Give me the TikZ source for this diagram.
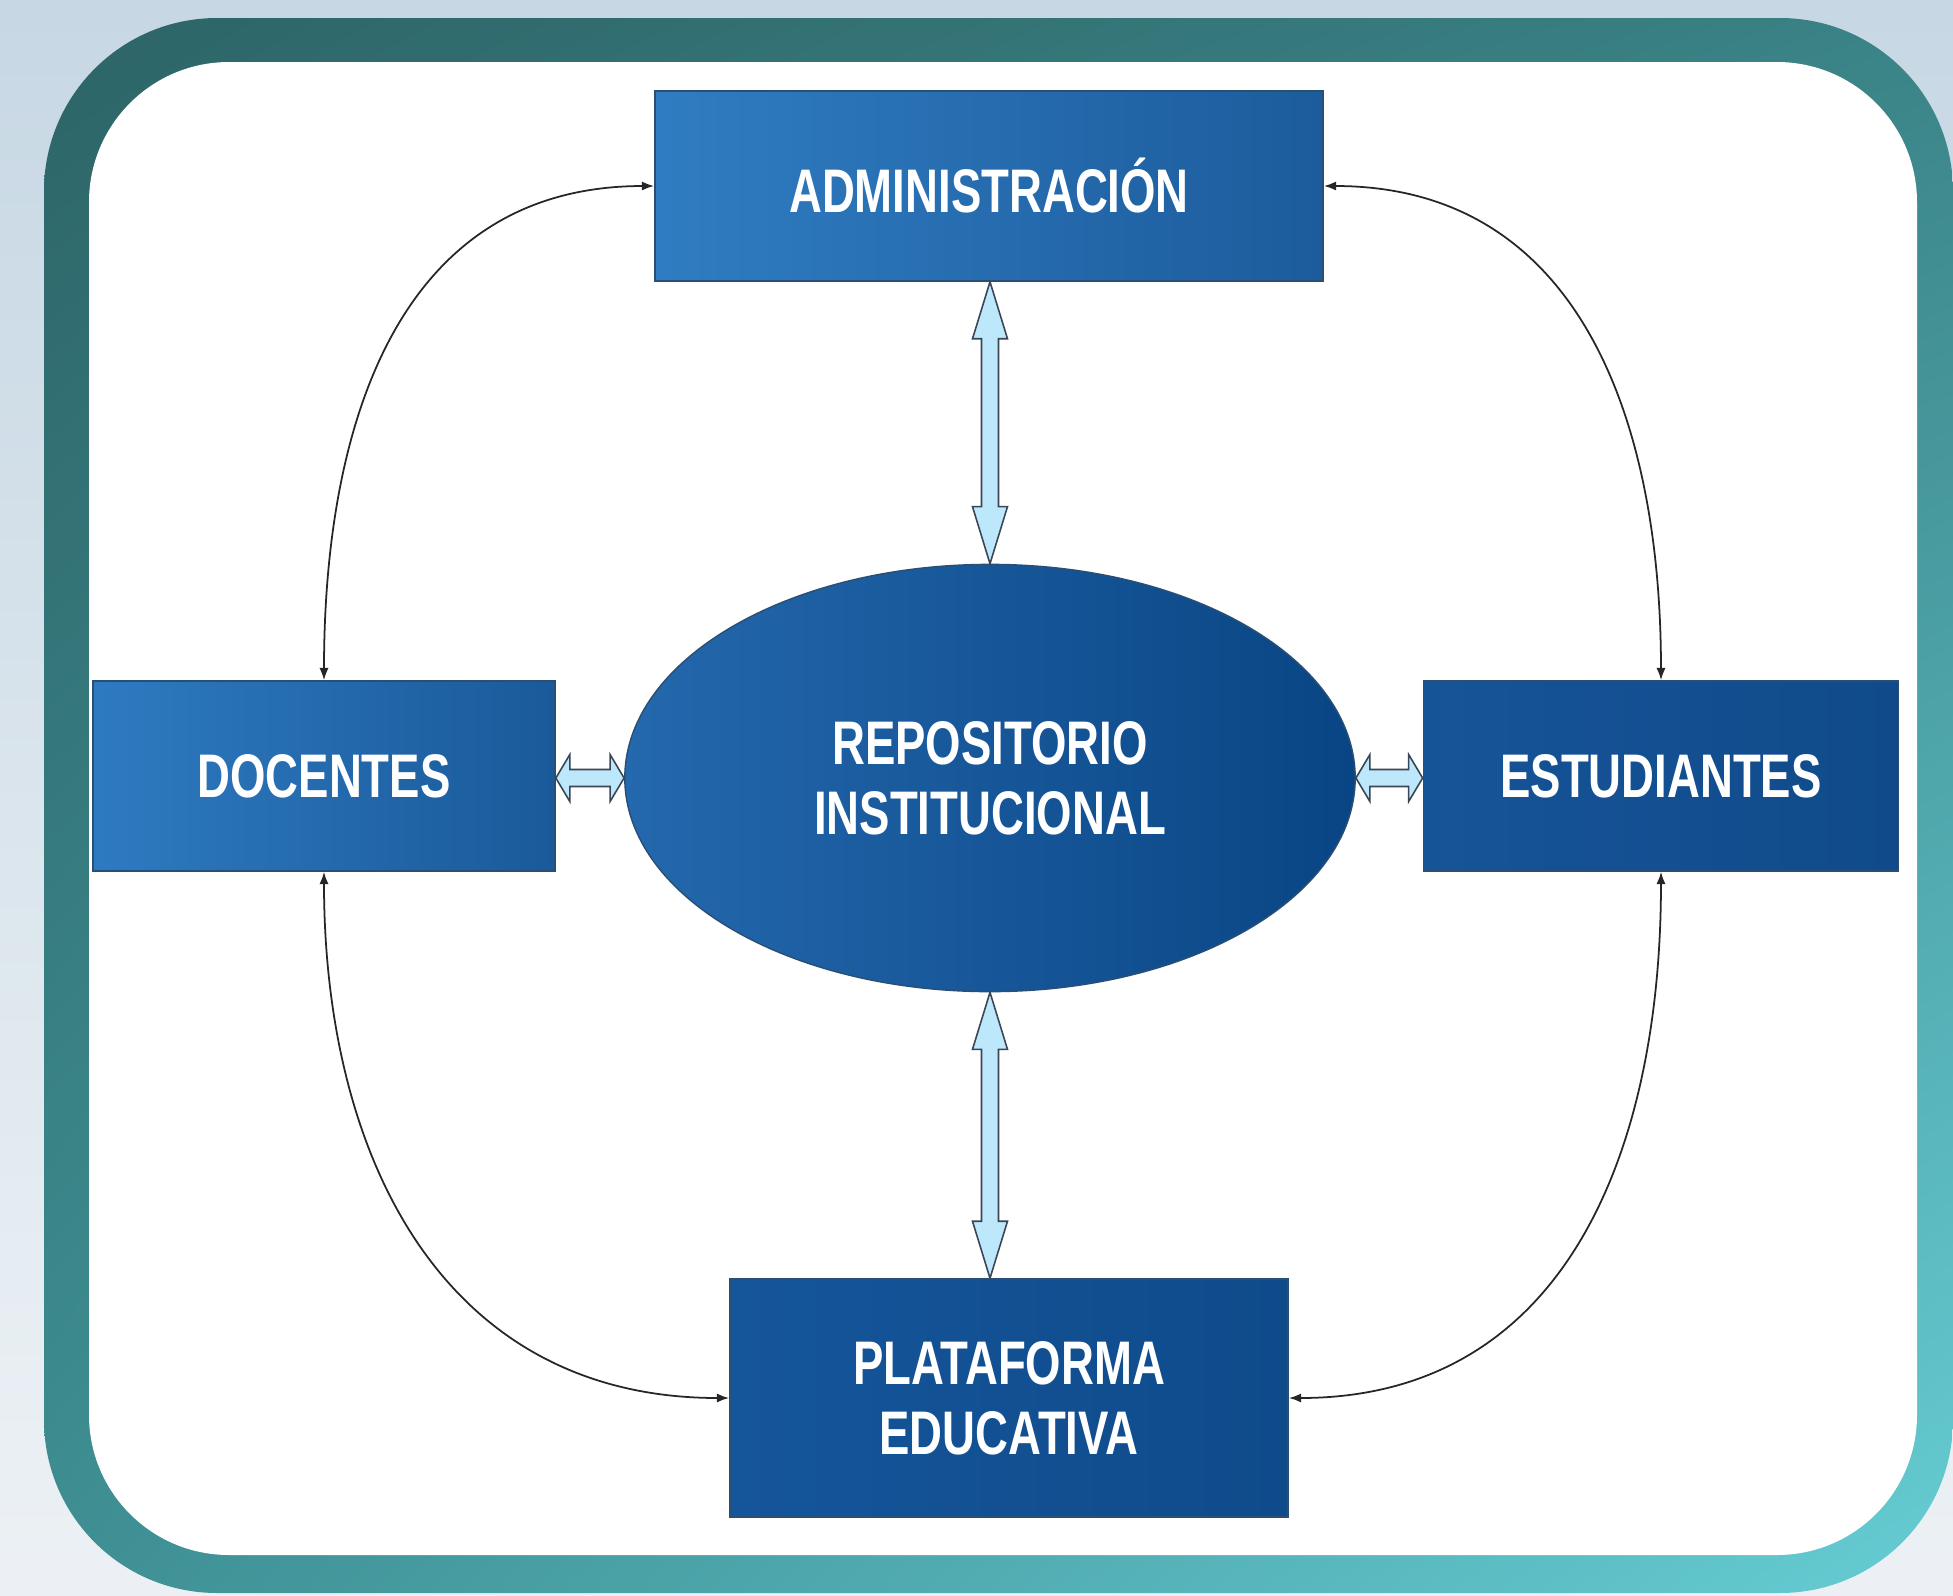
\documentclass[tikz,border=0pt]{standalone}
\usepackage{fontspec}
\newfontfamily\boxfont[FakeStretch=0.74]{Liberation Sans}
\usetikzlibrary{shapes.geometric, shadings, arrows.meta, calc}
\definecolor{bgtop}{HTML}{C3D5E2}
\definecolor{bgmid}{HTML}{D2DFE9}
\definecolor{bglow}{HTML}{E6EDF2}
\definecolor{bgwhite}{HTML}{F3F4F6}
\definecolor{bgrose}{HTML}{EDE3E3}
\definecolor{bgpink}{HTML}{E0CCCC}
\definecolor{bgbottom}{HTML}{D4BABA}
\definecolor{frameul}{HTML}{2D6467}
\definecolor{frameur}{HTML}{3A8386}
\definecolor{framell}{HTML}{3E8F93}
\definecolor{framelr}{HTML}{66CDD4}
\definecolor{adminl}{HTML}{307CC2}
\definecolor{adminr}{HTML}{1C5C9C}
\definecolor{docl}{HTML}{2E7AC1}
\definecolor{docr}{HTML}{1A5A9A}
\definecolor{estl}{HTML}{165498}
\definecolor{estr}{HTML}{104A8A}
\definecolor{platl}{HTML}{15559A}
\definecolor{platr}{HTML}{0F4B8B}
\definecolor{repol}{HTML}{2468AD}
\definecolor{repor}{HTML}{094584}
\definecolor{boxedge}{HTML}{2A4F75}
\definecolor{arrowfill}{HTML}{BDE7FB}
\definecolor{arrowedge}{HTML}{3A4656}
\pgfdeclareverticalshading{backfade}{100bp}{color(0bp)=(bgbottom); color(3bp)=(bgpink); color(8bp)=(bgrose); color(14bp)=(bgwhite); color(35bp)=(bglow); color(60bp)=(bgmid); color(80bp)=(bgtop); color(100bp)=(bgtop)}
\tikzset{
  entity/.style={rectangle, draw=boxedge, line width=0.4pt, text=white,
    font=\boxfont\bfseries\fontsize{17.5}{20}\selectfont, align=center, minimum height=1.9cm},
  repo/.style={ellipse, draw=boxedge, line width=0.4pt, text=white, inner sep=0pt,
    font=\boxfont\bfseries\fontsize{17.5}{20}\selectfont, align=center},
  link/.style={draw=black!85, line width=0.5pt, looseness=1.1, {Latex[length=3.5pt,width=2.6pt]}-{Latex[length=3.5pt,width=2.6pt]}},
  bigarrow/.style={fill=arrowfill, draw=arrowedge, line width=0.45pt, line join=miter}
}
\newcommand{\vbidir}[2]{%
  \draw[bigarrow] (#1) -- ++(17.5,57) -- ++(-9,0) -- ($(#2)+(8.5,-57)$) -- ++(9,0) -- (#2)
    -- ++(-17.5,-57) -- ++(9,0) -- ($(#1)+(-8.5,57)$) -- ++(-9,0) -- cycle;}
\newcommand{\hbidir}[2]{%
  \draw[bigarrow] (#1) -- ++(14,-23.5) -- ++(0,15) -- ($(#2)+(-14,-8.5)$) -- ++(0,-15) -- (#2)
    -- ++(-14,23.5) -- ++(0,-15) -- ($(#1)+(14,8.5)$) -- ++(0,15) -- cycle;}
\begin{document}
\begin{tikzpicture}[x=0.01cm, y=-0.01cm]
\useasboundingbox (0,0) rectangle (1953,1596);
\shade[shading=backfade] (0,0) rectangle (1953,1596);
\shade[rounded corners=1.73cm, upper left=frameul, upper right=frameur, lower left=framell,
  lower right=framelr] (44,18) rectangle (1953,1593);
\fill[white, rounded corners=1.4cm] (89,62) rectangle (1917,1555);

\node[entity, minimum width=6.68cm, left color=adminl, right color=adminr] (admin) at (989,186) {ADMINISTRACIÓN};
\node[entity, minimum width=4.62cm, left color=docl, right color=docr] (doc) at (324,776) {DOCENTES};
\node[entity, minimum width=4.75cm, left color=estl, right color=estr] (est) at (1661,776) {ESTUDIANTES};
\node[entity, minimum width=5.58cm, minimum height=2.38cm, left color=platl, right color=platr] (plat) at (1009,1398) {PLATAFORMA\\EDUCATIVA};
\node[repo, minimum width=7.3cm, minimum height=4.27cm, left color=repol, right color=repor] (ri) at (990,778) {REPOSITORIO\\INSTITUCIONAL};

\vbidir{ri.north |- admin.south}{ri.north}
\vbidir{ri.south}{ri.south |- plat.north}
\hbidir{doc.east |- ri.west}{ri.west}
\hbidir{ri.east}{ri.east -| est.west}

\draw[link] (admin.west) to[out=180, in=90] (doc.north);
\draw[link] (admin.east) to[out=0, in=90] (est.north);
\draw[link] (doc.south) to[out=270, in=180] (plat.west);
\draw[link] (est.south) to[out=270, in=0] (plat.east);
\end{tikzpicture}
\end{document}
